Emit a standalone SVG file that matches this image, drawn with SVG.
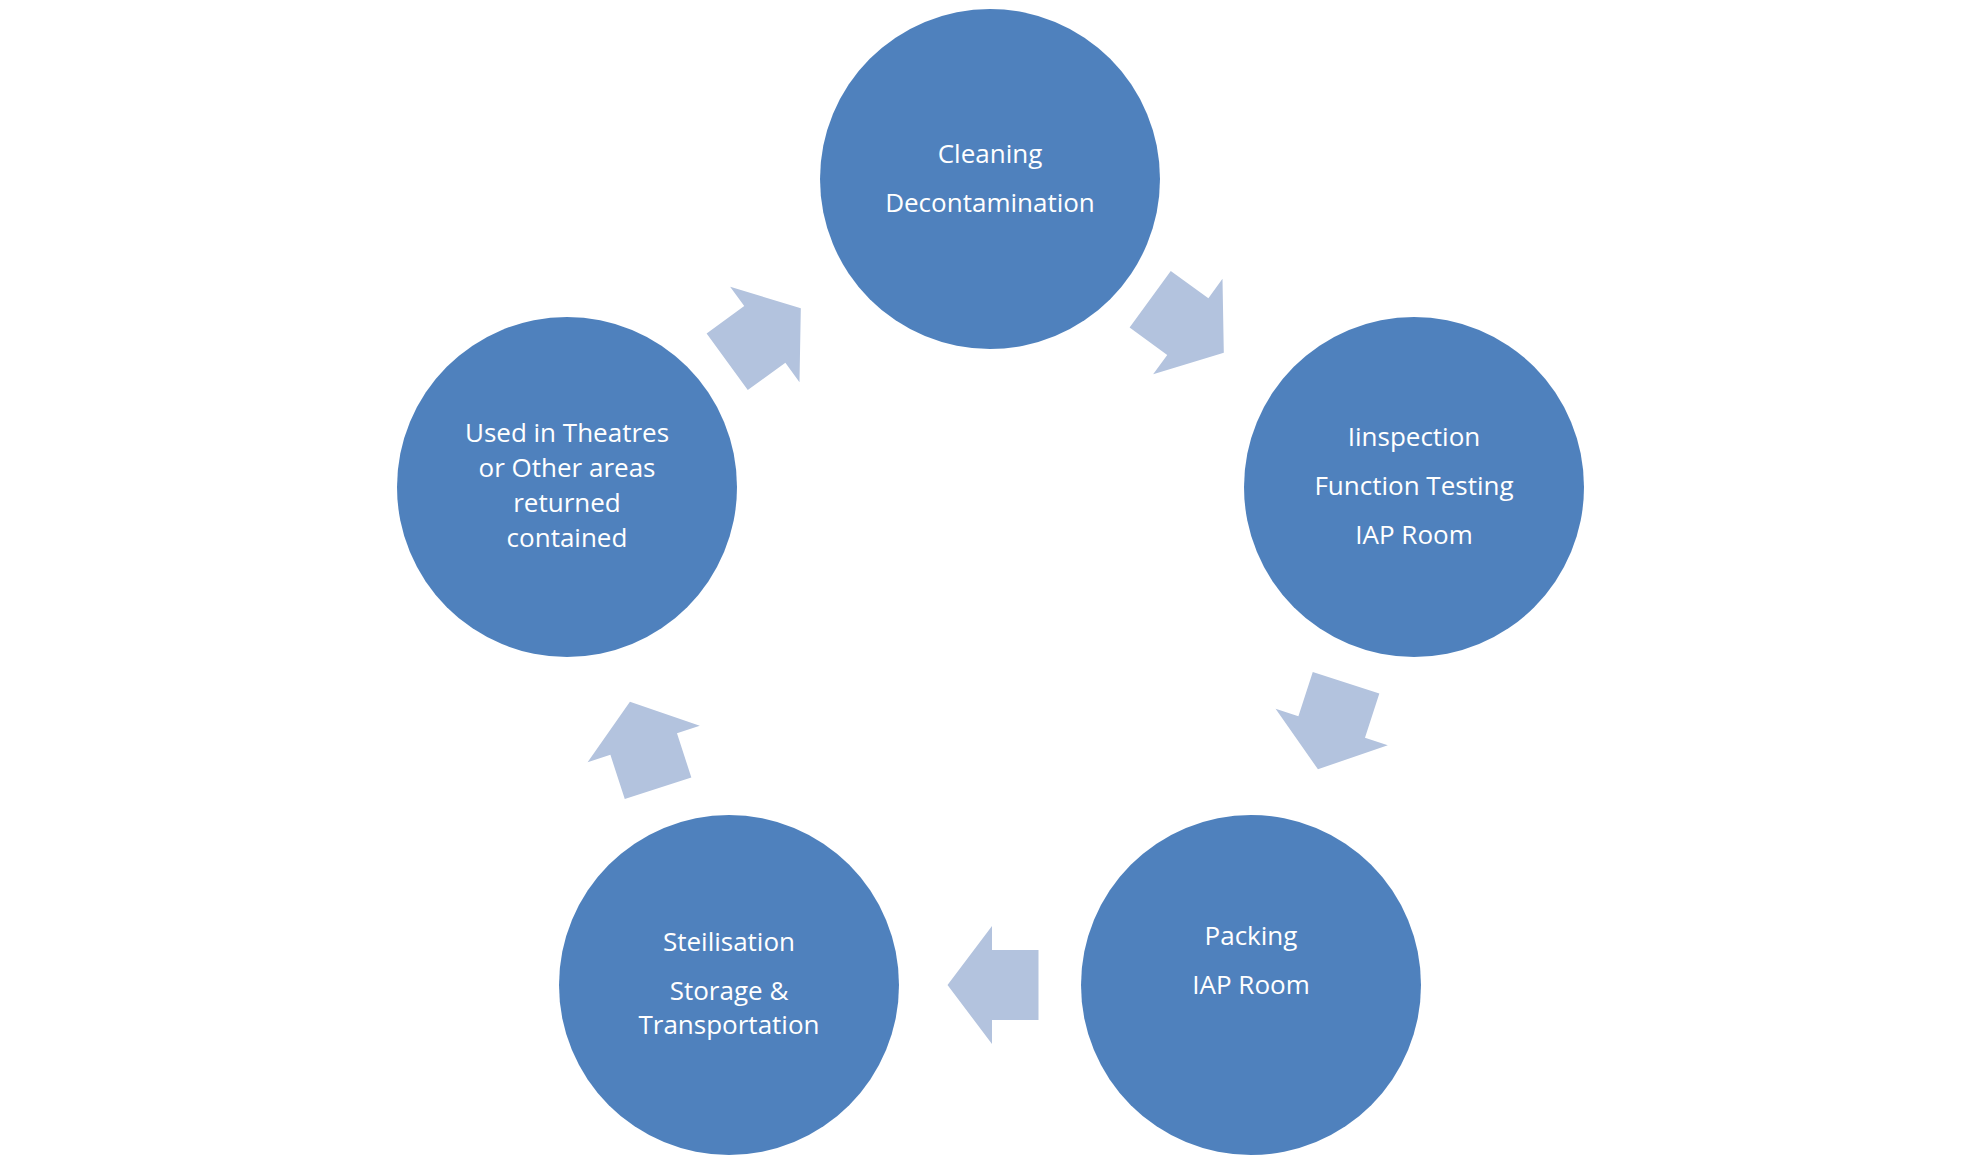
<svg xmlns="http://www.w3.org/2000/svg" width="1980" height="1164" viewBox="0 0 1980 1164">
<style>
.n{fill:#4F81BD}
.t{fill:#fff;font-family:"Open Sans","Liberation Sans",sans-serif;font-size:26px;text-anchor:middle}
.a{fill:#B3C3DE}
</style>
<defs><polygon id="arr" points="-45.5,-35 1,-35 1,-59 45.5,0 1,59 1,35 -45.5,35"/></defs>
<rect width="1980" height="1164" fill="#fff"/>
<g id="connectors">
<use href="#arr" class="a" transform="translate(1187,326) rotate(36)"/>
<use href="#arr" class="a" transform="translate(1332,726) rotate(108)"/>
<use href="#arr" class="a" transform="translate(993,985) rotate(180)"/>
<use href="#arr" class="a" transform="translate(644,745) rotate(-108)"/>
<use href="#arr" class="a" transform="translate(764,335) rotate(-36)"/>
</g>
<g id="cleaning"><circle class="n" cx="990" cy="179" r="170"/>
<text class="t" x="990" y="163">Cleaning</text><text class="t" x="990" y="212">Decontamination</text></g>
<g id="inspection"><circle class="n" cx="1414" cy="487" r="170"/>
<text class="t" x="1414" y="446">Iinspection</text><text class="t" x="1414" y="495">Function Testing</text><text class="t" x="1414" y="544">IAP Room</text></g>
<g id="packing"><circle class="n" cx="1251" cy="985" r="170"/>
<text class="t" x="1251" y="945">Packing</text><text class="t" x="1251" y="994">IAP Room</text></g>
<g id="sterilisation"><circle class="n" cx="729" cy="985" r="170"/>
<text class="t" x="729" y="951">Steilisation</text><text class="t" x="729" y="1000">Storage &amp;</text><text class="t" x="729" y="1034">Transportation</text></g>
<g id="used"><circle class="n" cx="567" cy="487" r="170"/>
<text class="t" x="567" y="442">Used in Theatres</text><text class="t" x="567" y="477">or Other areas</text><text class="t" x="567" y="512">returned</text><text class="t" x="567" y="547">contained</text></g>
</svg>
